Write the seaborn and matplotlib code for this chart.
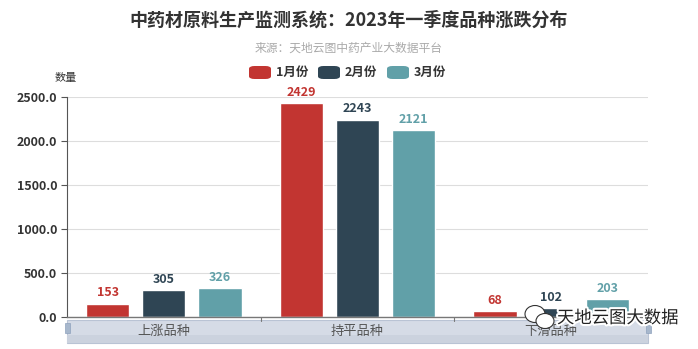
import matplotlib
matplotlib.use("Agg")
import matplotlib.pyplot as plt
import matplotlib.patheffects as pe
from matplotlib.patches import Rectangle, FancyBboxPatch, Ellipse
import seaborn as sns
import pandas as pd

categories = ["上涨品种", "持平品种", "下滑品种"]
series = ["1月份", "2月份", "3月份"]
jan = [153, 2429, 68]
feb = [305, 2243, 102]
mar = [326, 2121, 203]
colors = ["#C23531", "#2F4554", "#61A0A8"]
yticks = [0, 500, 1000, 1500, 2000, 2500]

sns.set_theme(style="white")
plt.rcParams['font.family'] = ['Noto Sans CJK SC', 'DejaVu Sans']

rows = []
for s, vals in zip(series, [jan, feb, mar]):
    for c, v in zip(categories, vals):
        rows.append({"cat": c, "series": s, "val": v})
df = pd.DataFrame(rows)

fig = plt.figure(figsize=(6.98, 3.49), dpi=100)
ax = fig.add_axes([67/698, 1-317/349, (648-67)/698, (317-97)/349])
ax.patch.set_alpha(0)

sns.barplot(data=df, x="cat", y="val", hue="series", order=categories,
            hue_order=series, palette=colors, width=0.87, gap=0.23,
            ax=ax, legend=False, saturation=1)

ax.set_ylim(0, 2500)
ax.set_xlim(-0.5, 2.5)
ax.set_yticks(yticks)
ax.set_yticklabels([f"{t:.1f}" for t in yticks], fontsize=9, fontweight='bold', color='#333333')
ax.yaxis.grid(True, color='#DDDDDD', linewidth=0.8)
ax.set_axisbelow(True)
ax.tick_params(axis='y', length=4, color='#555555', width=0.8, pad=3, left=True)
ax.tick_params(axis='x', bottom=False, labelbottom=False)
ax.set_xlabel("")
ax.set_ylabel("")
for sp in ['top', 'right']:
    ax.spines[sp].set_visible(False)
ax.spines['left'].set_color('#555555')
ax.spines['left'].set_linewidth(0.8)
ax.spines['bottom'].set_color('#777777')
ax.spines['bottom'].set_linewidth(1.0)

# value labels
for container, col in zip(ax.containers, colors):
    ax.bar_label(container, padding=3, fontsize=9, fontweight='bold', color=col)

# boundary ticks on x axis
for b in [0.5, 1.5]:
    ax.plot([b, b], [0, -45], color='#777777', lw=0.8, clip_on=False)

# y axis name
fig.text(66/698, 1-78/349, "数量", ha='center', va='center', fontsize=8, color='#333333')

# title and subtitle
fig.text(0.5, 1-20/349, "中药材原料生产监测系统：2023年一季度品种涨跌分布", ha='center', va='center',
         fontsize=13, fontweight='bold', color='#333333')
fig.text(0.5, 1-48/349, "来源：天地云图中药产业大数据平台", ha='center', va='center',
         fontsize=8.5, color='#AAAAAA')

# legend
leg_items = [(249, "1月份"), (318, "2月份"), (387, "3月份")]
for (x0, lab), col in zip(leg_items, colors):
    fig.patches.append(FancyBboxPatch((x0/698, 1-79/349), 22/698, 13/349,
                                      boxstyle="round,pad=0,rounding_size=0.008",
                                      transform=fig.transFigure, facecolor=col, edgecolor='none'))
    fig.text((x0+27)/698, 1-72/349, lab, ha='left', va='center', fontsize=9,
             fontweight='bold', color='#333333')

# data zoom slider (behind the axes)
fig.patches.append(Rectangle((67/698, 1-343/349), (648-67)/698, 23/349,
                             transform=fig.transFigure, facecolor='#D5DBE6',
                             edgecolor='#B9C3D4', linewidth=0.8, zorder=-2))
fig.patches.append(Rectangle((67/698, 1-343/349), (648-67)/698, 8/349,
                             transform=fig.transFigure, facecolor='#CBD2DE',
                             edgecolor='none', zorder=-1.5))
for hx in [67, 648]:
    fig.patches.append(Rectangle(((hx-2.5)/698, 1-333/349), 5/698, 10/349,
                                 transform=fig.transFigure, facecolor='#A7B7CC',
                                 edgecolor='#8FA2BD', linewidth=0.5, zorder=-1))
for i, c in enumerate(categories):
    ax.text(i, -165, c, ha='center', va='center', fontsize=9.5, color='#555555')

# watermark
wm = fig.text(557/698, 1-318/349, "天地云图大数据", ha='left', va='center', fontsize=12.5,
              color='#222222', zorder=10)
wm.set_path_effects([pe.withStroke(linewidth=3, foreground='white')])
fig.patches.append(Ellipse((535/698, 1-314/349), 20/698, 17/349, transform=fig.transFigure,
                           facecolor='white', edgecolor='#333333', linewidth=0.8, zorder=9))
fig.patches.append(Ellipse((545/698, 1-321/349), 18/698, 15/349, transform=fig.transFigure,
                           facecolor='white', edgecolor='#333333', linewidth=0.8, zorder=9.5))

fig.savefig("out.png", dpi=100)
